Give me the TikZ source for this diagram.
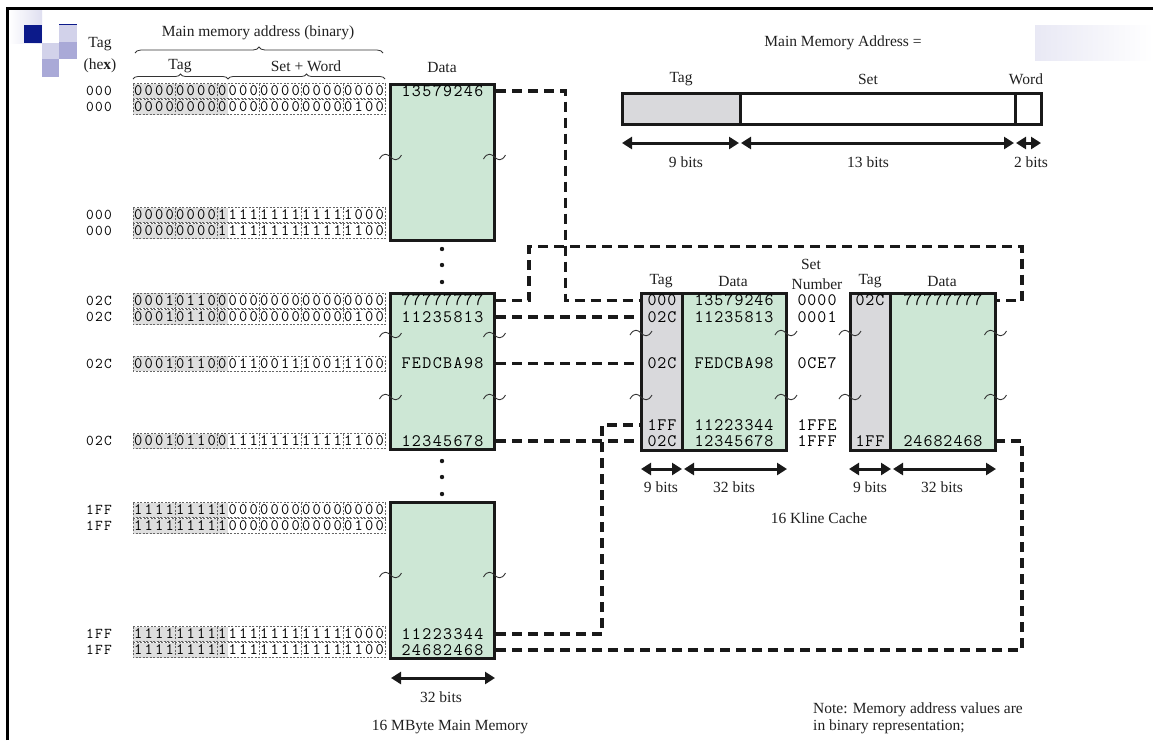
\documentclass[tikz,border=0pt]{standalone}
\usepackage{fontspec}
\setmainfont{Liberation Serif}
\usetikzlibrary{arrows.meta,decorations.pathreplacing}
\definecolor{memgreen}{HTML}{CDE7D5}
\definecolor{taggray}{HTML}{D9D9DC}
\definecolor{bingray}{HTML}{DEDEDE}
\definecolor{navy}{HTML}{0C1A8A}
\definecolor{lavA}{HTML}{D2D2EA}
\definecolor{lavB}{HTML}{A9A9D7}
\definecolor{ink}{HTML}{202020}
\makeatletter
\newcommand\fixw[2]{\edef\fw@list{#2}\def\fw@do{\@tfor\fw@c:=}\expandafter\fw@do\fw@list\do{\makebox[#1][c]{\fw@c}}}
\makeatother
\begin{document}
\begin{tikzpicture}[x=1pt,y=-1pt,
  membox/.style={draw=black!90, line width=3pt, fill=memgreen, inner sep=0pt, minimum width=104pt, minimum height=156pt},
  tagcol/.style={draw=black!90, line width=3pt, fill=taggray, inner sep=0pt, minimum width=41.5pt, minimum height=157pt},
  datcol/.style={draw=black!90, line width=3pt, fill=memgreen, inner sep=0pt, minimum height=157pt},
  fieldbox/.style={draw=black!90, line width=3pt, inner sep=0pt, minimum height=31pt},
  conn/.style={line width=3.3pt, dash pattern=on 10pt off 6pt, black!90},
  dimarrow/.style={line width=3pt, black!90, {Triangle[length=10pt,width=12pt]}-{Triangle[length=10pt,width=12pt]}},
  lbl/.style={font=\fontsize{15.5}{17}\selectfont, text=ink, inner sep=0pt},
  dat/.style={font=\fontsize{17.5}{17.5}\ttfamily, text=black, inner sep=0pt},
  bin/.style={font=\fontsize{16}{16}\ttfamily, text=black, inner sep=0pt},
  hex/.style={font=\fontsize{15}{15}\ttfamily, text=black, inner sep=0pt},
  binbox/.style={draw=black!60, line width=0.6pt, dash pattern=on 2pt off 1.5pt},
  tld/.pic={\draw[line width=0.9pt, black!80] (-11,2) .. controls (-7,-5) and (-3,-3) .. (0,0) .. controls (3,3) and (7,5) .. (11,-2);}
]
\useasboundingbox (0,0) rectangle (1153,740);
\fill[white] (0,0) rectangle (1153,740);
% frame
\draw[line width=3pt, black] (7,740) -- (7,8) -- (1153,8);
% decoration
\shade[left color=white, right color=lavA!70] (9,10) rectangle (42,43);
\fill[navy] (24,25) rectangle (42,43);
\fill[lavA] (59,25) rectangle (77,42);
\draw[navy, line width=1pt] (59,24.5) -- (77,24.5);
\fill[lavA] (42,43) rectangle (59,59);
\fill[lavB] (59,42) rectangle (77,59);
\fill[lavB] (42,59) rectangle (59,77);
\shade[left color=lavA!50, right color=white] (1035,25) rectangle (1153,60);

% headers
\node[lbl] (tagh) at (100,44) {Tag};
\node[lbl] (hexh) at (100,66) {(he\textbf{x})};
\node[lbl] (mma) at (258,33) {Main memory address (binary)};
\draw[decorate, decoration={brace, amplitude=6pt}, line width=0.8pt, black!80] (135,53) -- (383,53);
\node[lbl] (tagb) at (180,66) {Tag};
\node[lbl] (swb) at (306,66) {Set + Word};
\draw[decorate, decoration={brace, amplitude=5pt}, line width=0.8pt, black!80] (133,79) -- (228,79);
\draw[decorate, decoration={brace, amplitude=5pt}, line width=0.8pt, black!80] (228,79) -- (385,79);

% binary rows
\foreach \yy/\hx/\bits in {91/000/000000000000000000000000, 107/000/000000000000000000000100,
  215/000/000000001111111111111000, 231/000/000000001111111111111100,
  300.5/02C/000101100000000000000000, 317/02C/000101100000000000000100,
  363.5/02C/000101100011001110011100, 441/02C/000101100111111111111100,
  510/1FF/111111111000000000000000, 526/1FF/111111111000000000000100,
  634/1FF/111111111111111111111000, 650/1FF/111111111111111111111100}{
  \fill[bingray] (133,\yy-7.5) rectangle (227.5,\yy+7.5);
  \draw[binbox] (133,\yy-7.5) rectangle (385,\yy+7.5);
  \foreach \k in {1,...,5}{\draw[binbox] ({133+42*\k},\yy-7.5) -- ({133+42*\k},\yy+7.5);}
  \node[bin] (b\yy) at (259,\yy) {\fixw{10.5pt}{\bits}};
  \node[hex] (h\yy) at (99,\yy) {\fixw{9pt}{\hx}};
}

% main memory
\node[lbl] (datah) at (442,67) {Data};
\node[membox] (mA) at (442.5,162) {};
\node[membox] (mB) at (442.5,371) {};
\node[membox] (mC) at (442.5,580) {};
\node[dat] (dA1) at (442.5,91) {\fixw{10.4pt}{13579246}};
\node[dat] (dB1) at (442.5,300.5) {\fixw{10.4pt}{77777777}};
\node[dat] (dB2) at (442.5,317) {\fixw{10.4pt}{11235813}};
\node[dat] (dB3) at (442.5,363.5) {\fixw{10.4pt}{FEDCBA98}};
\node[dat] (dB4) at (442.5,441) {\fixw{10.4pt}{12345678}};
\node[dat] (dC1) at (442.5,634) {\fixw{10.4pt}{11223344}};
\node[dat] (dC2) at (442.5,650) {\fixw{10.4pt}{24682468}};
\foreach \yy in {249,265,282,461,477,494}{\fill[black!90] (442,\yy) circle[radius=2.2pt];}
\foreach \xx/\yy in {390.5/157,494.5/157,390.5/335,494.5/335,390.5/397,494.5/397,390.5/575,494.5/575}{\pic at (\xx,\yy) {tld};}
\draw[dimarrow] (391,678) -- (495,678);
\node[lbl] (mm32) at (441,697) {32 bits};
\node[lbl] (mmcap) at (450,727) {16 MByte Main Memory};

% cache
\node[tagcol] (t1) at (661.75,371.5) {};
\node[datcol, minimum width=103.5pt] (d1) at (734.25,371.5) {};
\node[tagcol, minimum width=40.5pt] (t2) at (870.25,371.5) {};
\node[datcol, minimum width=105pt] (d2) at (943,371.5) {};
\node[lbl] (ct1) at (661,281) {Tag};
\node[lbl] (cd1) at (733,281) {Data};
\node[lbl] (cs1) at (811,264) {Set};
\node[lbl] (cs2) at (817,284) {Number};
\node[lbl] (ct2) at (870,281) {Tag};
\node[lbl] (cd2) at (942,281) {Data};
\foreach \nm/\yy/\tg/\dt/\st in {a/300.5/000/13579246/0000, b/317/02C/11235813/0001, c/363.5/02C/FEDCBA98/0CE7, d/425/1FF/11223344/1FFE, e/441/02C/12345678/1FFF}{
  \node[dat] (c1t\nm) at (662,\yy) {\fixw{10pt}{\tg}};
  \node[dat] (c1d\nm) at (734,\yy) {\fixw{10pt}{\dt}};
  \node[dat] (cs\nm) at (817,\yy) {\fixw{10pt}{\st}};
}
\node[dat] (c2ta) at (870,300.5) {\fixw{10pt}{02C}};
\node[dat] (c2da) at (943,300.5) {\fixw{10pt}{77777777}};
\node[dat] (c2te) at (870,441) {\fixw{10pt}{1FF}};
\node[dat] (c2de) at (943,441) {\fixw{10pt}{24682468}};
\foreach \xx/\yy in {641/333,786/333,641/397,786/397,850/333,995.5/333,850/397,995.5/397}{\pic at (\xx,\yy) {tld};}
\draw[dimarrow] (641,469) -- (682,469);
\draw[dimarrow] (684,469) -- (787,469);
\draw[dimarrow] (849,469) -- (891,469);
\draw[dimarrow] (893,469) -- (996,469);
\node[lbl] (cb1) at (661,487) {9 bits};
\node[lbl] (cb2) at (734,487) {32 bits};
\node[lbl] (cb3) at (870,487) {9 bits};
\node[lbl] (cb4) at (942,487) {32 bits};
\node[lbl] (ccap) at (819,518) {16 Kline Cache};

% connectors
\draw[conn] (mA.east |- dA1) -- (565.5,91) -- (565.5,300.5) -- (t1.west |- c1ta);
\draw[conn] (mB.east |- dB1) -- (529,300.5) -- (529,246.5) -- (1022,246.5) -- (1022,300.5) -- (d2.east |- c2da);
\draw[conn] (mB.east |- dB2) -- (t1.west |- c1tb);
\draw[conn] (mB.east |- dB3) -- (t1.west |- c1tc);
\draw[conn] (mB.east |- dB4) -- (t1.west |- c1te);
\draw[conn] (mC.east |- dC1) -- (602,634) -- (602,425) -- (t1.west |- c1td);
\draw[conn] (mC.east |- dC2) -- (1022,650) -- (1022,441) -- (d2.east |- c2de);

% address format
\node[lbl] (mmaddr) at (843,43) {Main Memory Address =};
\node[lbl] (ftagl) at (681,79) {Tag};
\node[lbl] (fsetl) at (868,79) {Set};
\node[lbl] (fwordl) at (1026,79) {Word};
\node[fieldbox, fill=taggray, minimum width=118pt] (ftag) at (681,108.5) {};
\node[fieldbox, fill=white, minimum width=275pt] (fset) at (877.5,108.5) {};
\node[fieldbox, fill=white, minimum width=26pt] (fword) at (1028,108.5) {};
\draw[dimarrow] (622,143) -- (739,143);
\draw[dimarrow] (741,143) -- (1014,143);
\draw[dimarrow] (1016,143) -- (1041,143);
\node[lbl] (fb1) at (686,162) {9 bits};
\node[lbl] (fb2) at (868,162) {13 bits};
\node[lbl] (fb3) at (1031,162) {2 bits};

% note
\node[lbl, anchor=west] (note1) at (813,710) {Note: Memory address values are};
\node[lbl, anchor=west] (note2) at (813,727) {in binary representation;};
\end{tikzpicture}
\end{document}
